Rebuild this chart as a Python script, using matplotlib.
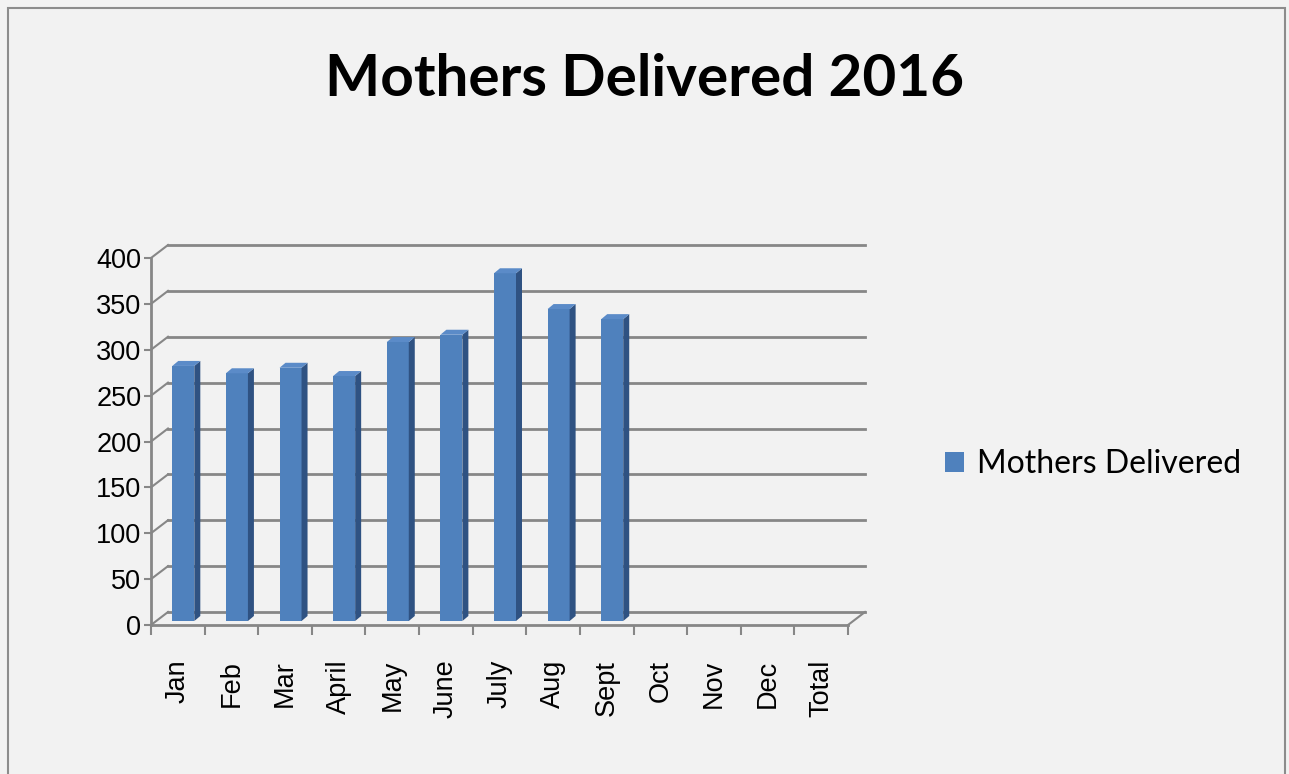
import matplotlib
matplotlib.use('Agg')
import matplotlib.pyplot as plt
from matplotlib.patches import Rectangle, Polygon, Patch

# ---- data ----
categories = ['Jan', 'Feb', 'Mar', 'April', 'May', 'June', 'July', 'Aug',
              'Sept', 'Oct', 'Nov', 'Dec', 'Total']
values = [278, 270, 276, 267, 304, 312, 379, 340, 329]  # Oct, Nov, Dec, Total empty
series_name = 'Mothers Delivered'
title = 'Mothers Delivered 2016'
yticks = [0, 50, 100, 150, 200, 250, 300, 350, 400]

# ---- figure ----
W, H = 1289, 774
fig = plt.figure(figsize=(W / 100, H / 100), dpi=100)
fig.patch.set_facecolor('#f2f2f2')

# outer chart border
fig.patches.append(Rectangle((8 / W, -0.02), (1285 - 8) / W, 1 - 8 / H + 0.02,
                             transform=fig.transFigure, fill=False,
                             edgecolor='#8c8c8c', lw=1.5))

# front plane of the plot area
x0, x1, y0, y1 = 151, 848, 625, 258
ax = fig.add_axes([x0 / W, (H - y0) / H, (x1 - x0) / W, (y0 - y1) / H])
ax.set_facecolor('none')
n = len(categories)
ax.set_xlim(0, n)
ax.set_ylim(0, 400)

ux = (x1 - x0) / n      # px per category
uy = (y0 - y1) / 400.0  # px per value unit

grid_c = '#878787'
# back wall offset (pixels -> data)
bdx, bdy = 17 / ux, 13 / uy
for v in yticks:
    ax.plot([bdx, n + bdx], [v + bdy, v + bdy], color=grid_c, lw=2, clip_on=False, zorder=1)
    ax.plot([0, bdx], [v, v + bdy], color=grid_c, lw=1.5, clip_on=False, zorder=1)
ax.plot([n, n + bdx], [0, bdy], color=grid_c, lw=1.5, clip_on=False, zorder=1)

# bars (pseudo 3D)
fdx, fdy = 5.5 / ux, 4 / uy
sdx, sdy = 6 / ux, 5 / uy
w = 22 / ux
front_c, side_c, top_c = '#4f81bd', '#2f5282', '#5b8bc8'
for i, v in enumerate(values):
    xl = i + 0.5 + fdx - w / 2
    xr = xl + w
    ax.add_patch(Rectangle((xl, fdy), w, v, facecolor=front_c, edgecolor='none',
                           clip_on=False, zorder=3))
    ax.add_patch(Polygon([(xr, fdy), (xr + sdx, fdy + sdy), (xr + sdx, fdy + v + sdy),
                          (xr, fdy + v)], closed=True, facecolor=side_c,
                         edgecolor='none', clip_on=False, zorder=3))
    ax.add_patch(Polygon([(xl, fdy + v), (xr, fdy + v), (xr + sdx, fdy + v + sdy),
                          (xl + sdx, fdy + v + sdy)], closed=True, facecolor=top_c,
                         edgecolor='none', clip_on=False, zorder=3))

# axes styling
for s in ['top', 'right']:
    ax.spines[s].set_visible(False)
for s in ['left', 'bottom']:
    ax.spines[s].set_color(grid_c)
    ax.spines[s].set_linewidth(2)
    ax.spines[s].set_zorder(4)

tick_font = 'Liberation Sans'
ax.set_yticks(yticks)
ax.set_yticklabels([str(v) for v in yticks], family=tick_font)
ax.tick_params(axis='y', direction='out', length=5, width=1.5, color=grid_c,
               labelsize=19.5, pad=2, labelcolor='black')

ax.set_xticks(range(n + 1))
ax.set_xticklabels([''] * (n + 1))
ax.set_xticks([i + 0.5 for i in range(n)], minor=True)
ax.set_xticklabels(categories, minor=True, rotation=90, va='top', ha='center',
                   family=tick_font)
ax.tick_params(axis='x', which='major', direction='out', length=7, width=1.5, color=grid_c)
ax.tick_params(axis='x', which='minor', length=0, pad=25, labelsize=19.5, labelcolor='black')

# title
fig.text(0.5, 1 - 96 / H, title, ha='center', va='baseline', fontsize=42,
         fontweight='bold', family='Lato', color='black')

# legend
handle = Patch(facecolor=front_c, edgecolor='none', label=series_name)
fig.legend(handles=[handle], loc='center left', bbox_to_anchor=(945 / W, 1 - 464 / H),
           frameon=False, prop={'family': 'Lato', 'size': 23}, handlelength=0.6,
           handleheight=0.6, handletextpad=0.4, borderpad=0, borderaxespad=0)

fig.savefig('out.png', dpi=100, facecolor=fig.get_facecolor())
